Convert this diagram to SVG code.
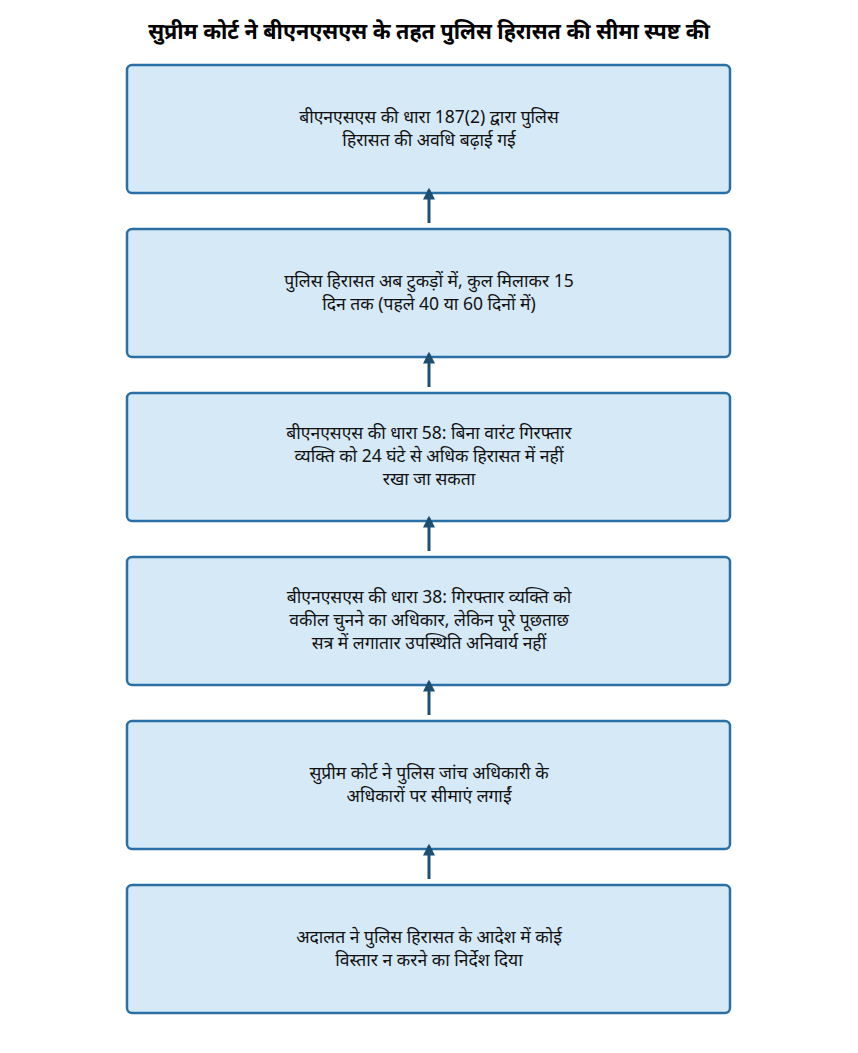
<svg xmlns="http://www.w3.org/2000/svg" width="858" height="1053" viewBox="0 0 858 1053">
<style>
.b{fill:#d6e9f7;stroke:#2a6fa5;stroke-width:2.5}
.t{font-family:"Noto Sans","Noto Sans Devanagari","Lohit Devanagari",sans-serif;font-size:17.5px;fill:#111;text-anchor:middle}
.h{font-family:"Noto Sans","Noto Sans Devanagari",sans-serif;font-size:21.5px;font-weight:bold;fill:#000;text-anchor:middle}
.c{stroke:#1d4f73;stroke-width:3;fill:none;marker-end:url(#a)}
</style>
<defs><marker id="a" viewBox="0 0 10 10" refX="8" refY="5" markerWidth="4" markerHeight="4" orient="auto"><path d="M0,0L10,5L0,10z" fill="#1d4f73"/></marker></defs>
<rect width="858" height="1053" fill="#fff"/>
<text class="h" x="429" y="39">सुप्रीम कोर्ट ने बीएनएसएस के तहत पुलिस हिरासत की सीमा स्पष्ट की</text>
<g id="n1"><rect class="b" x="127" y="65" width="603" height="128" rx="5"/><text class="t" x="429" y="123">बीएनएसएस की धारा 187(2) द्वारा पुलिस</text><text class="t" x="429" y="146">हिरासत की अवधि बढ़ाई गई</text></g>
<g id="n2"><rect class="b" x="127" y="229" width="603" height="128" rx="5"/><text class="t" x="429" y="287">पुलिस हिरासत अब टुकड़ों में, कुल मिलाकर 15</text><text class="t" x="429" y="310">दिन तक (पहले 40 या 60 दिनों में)</text></g>
<g id="n3"><rect class="b" x="127" y="393" width="603" height="128" rx="5"/><text class="t" x="429" y="439">बीएनएसएस की धारा 58: बिना वारंट गिरफ्तार</text><text class="t" x="429" y="462">व्यक्ति को 24 घंटे से अधिक हिरासत में नहीं</text><text class="t" x="429" y="485">रखा जा सकता</text></g>
<g id="n4"><rect class="b" x="127" y="557" width="603" height="128" rx="5"/><text class="t" x="429" y="603">बीएनएसएस की धारा 38: गिरफ्तार व्यक्ति को</text><text class="t" x="429" y="626">वकील चुनने का अधिकार, लेकिन पूरे पूछताछ</text><text class="t" x="429" y="649">सत्र में लगातार उपस्थिति अनिवार्य नहीं</text></g>
<g id="n5"><rect class="b" x="127" y="721" width="603" height="128" rx="5"/><text class="t" x="429" y="779">सुप्रीम कोर्ट ने पुलिस जांच अधिकारी के</text><text class="t" x="429" y="802">अधिकारों पर सीमाएं लगाईं</text></g>
<g id="n6"><rect class="b" x="127" y="885" width="603" height="128" rx="5"/><text class="t" x="429" y="943">अदालत ने पुलिस हिरासत के आदेश में कोई</text><text class="t" x="429" y="966">विस्तार न करने का निर्देश दिया</text></g>
<g id="connectors">
<line class="c" x1="429" y1="223" x2="429" y2="190"/>
<line class="c" x1="429" y1="387" x2="429" y2="354"/>
<line class="c" x1="429" y1="551" x2="429" y2="518"/>
<line class="c" x1="429" y1="715" x2="429" y2="682"/>
<line class="c" x1="429" y1="879" x2="429" y2="846"/>
</g>
</svg>
